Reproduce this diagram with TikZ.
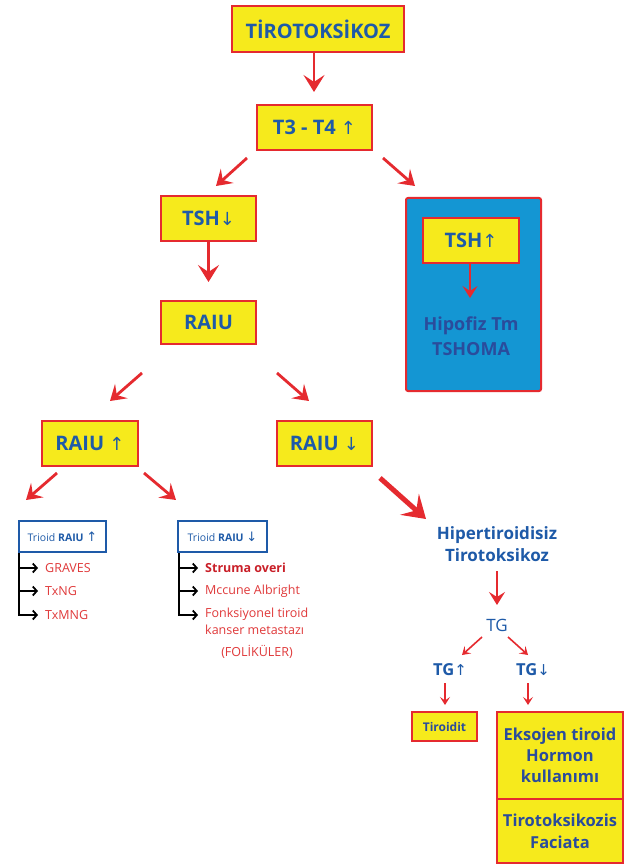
\documentclass[tikz,border=0pt]{standalone}
\usepackage{fontspec}
\setmainfont{Open Sans}
\newfontfamily\arrfont{DejaVu Sans}
\usetikzlibrary{arrows.meta}
\definecolor{boxyel}{HTML}{F6EA1C}
\definecolor{boxred}{HTML}{E52A2F}
\definecolor{txtblue}{HTML}{1E5AA8}
\definecolor{bigblue}{HTML}{1496D3}
\definecolor{darkblue}{HTML}{2A4C9C}
\definecolor{txtred}{HTML}{E0393A}
\definecolor{strred}{HTML}{C91F28}
\begin{document}
\begin{tikzpicture}[x=1pt,y=-1pt,
  ybox/.style={draw=boxred, line width=2.2pt, fill=boxyel, text=txtblue,
    font=\bfseries\fontsize{20}{22}\selectfont, inner sep=0pt},
  wbox/.style={draw=txtblue, line width=2pt, fill=white, text=txtblue,
    font=\fontsize{10.5}{12}\selectfont, inner sep=0pt, minimum height=31pt},
  redlab/.style={anchor=west, inner sep=0pt, text=txtred, font=\fontsize{12.5}{17}\selectfont},
  arr/.style={draw=boxred, line width=2.8pt, -{Stealth[length=17pt,width=21pt,inset=7pt]}},
  darr/.style={draw=boxred, line width=2.8pt, -{Stealth[length=15pt,width=19pt,inset=6pt]}},
  sarr/.style={draw=boxred, line width=1.6pt, -{Stealth[length=8pt,width=10pt,inset=3.5pt]}},
  brk/.style={draw=black, line width=1.8pt, -{Straight Barb[length=4pt,width=9pt]}},
]
\useasboundingbox (0,0) rectangle (627,866);
\fill[white] (0,0) rectangle (627,866);

% main boxes
\node[ybox, minimum width=172pt, minimum height=46pt] (top) at (318,29) {TİROTOKSİKOZ};
\node[ybox, minimum width=115pt, minimum height=45pt] (t34) at (314.5,127.5) {T3 - T4 {\arrfont\mdseries\fontsize{18}{20}\selectfont↑}};
\node[ybox, minimum width=95pt, minimum height=45pt] (tshd) at (208.5,218.5) {TSH{\arrfont\mdseries\fontsize{18}{20}\selectfont↓}};
\node[ybox, minimum width=95pt, minimum height=43pt] (raiu) at (208.5,322.5) {RAIU};

% blue box
\node[draw=boxred, line width=2pt, fill=bigblue, rounded corners=2pt,
  minimum width=135pt, minimum height=193pt, inner sep=0pt] (blue) at (473.5,294.5) {};
\node[ybox, minimum width=96pt, minimum height=45pt] (tshu) at (471,240.5) {TSH{\arrfont\mdseries\fontsize{18}{20}\selectfont↑}};
\node[text=darkblue, font=\bfseries\fontsize{18}{25}\selectfont, align=center, inner sep=0pt] (hipo) at (471,336) {Hipofiz Tm\\TSHOMA};
\coordinate (tshuE) at (470,298);
\draw[draw=boxred, line width=2pt, -{Stealth[length=12pt,width=15pt,inset=5pt]}] (tshu.south -| tshuE) -- (tshuE);

\node[ybox, minimum width=96pt, minimum height=45pt] (raiuu) at (90,443.5) {RAIU {\arrfont\mdseries\fontsize{18}{20}\selectfont↑}};
\node[ybox, minimum width=95pt, minimum height=45pt] (raiud) at (324.5,443.5) {RAIU {\arrfont\mdseries\fontsize{18}{20}\selectfont↓}};

% arrows top part
\coordinate (a0) at (314,92);
\draw[arr] (top.south -| a0) -- (a0);
\coordinate (a1s) at (247,158); \coordinate (a1e) at (216,186);
\coordinate (a2s) at (383,158); \coordinate (a2e) at (415,186);
\draw[darr] (a1s) -- (a1e);
\draw[darr] (a2s) -- (a2e);
\coordinate (a3) at (208.5,282);
\draw[arr] (tshd.south) -- (a3);
\coordinate (a4s) at (142,373); \coordinate (a4e) at (110,401);
\coordinate (a5s) at (277,373); \coordinate (a5e) at (309,401);
\draw[darr] (a4s) -- (a4e);
\draw[darr] (a5s) -- (a5e);
\coordinate (a6s) at (57,473); \coordinate (a6e) at (26,500);
\coordinate (a7s) at (144,473); \coordinate (a7e) at (176,500);
\draw[darr] (a6s) -- (a6e);
\draw[darr] (a7s) -- (a7e);
\coordinate (a8s) at (380,478); \coordinate (a8e) at (426,519);
\draw[draw=boxred, line width=5pt, -{Stealth[length=22pt,width=28pt,inset=9pt]}] (a8s) -- (a8e);

% Trioid boxes
\node[wbox, minimum width=87pt] (trU) at (62.5,536.5) {Trioid \textbf{RAIU} {\arrfont\fontsize{13}{13}\selectfont↑}};
\node[wbox, minimum width=89pt] (trD) at (222.5,536.5) {Trioid \textbf{RAIU} {\arrfont\fontsize{13}{13}\selectfont↓}};

\node[redlab] (gr) at (45,568) {GRAVES};
\node[redlab] (txng) at (45,591) {TxNG};
\node[redlab] (txmng) at (45,615) {TxMNG};
\draw[brk, shorten >=7pt] ([xshift=1pt]trU.south west) |- (txmng.west);
\draw[brk, shorten >=7pt] ([xshift=1pt]trU.south west |- gr.west) -- (gr.west);
\draw[brk, shorten >=7pt] ([xshift=1pt]trU.south west |- txng.west) -- (txng.west);

\node[redlab, text=strred, font=\bfseries\fontsize{12.5}{17}\selectfont] (str) at (205,568) {Struma overi};
\node[redlab] (mcc) at (205,591) {Mccune Albright};
\node[redlab, anchor=north west, align=left] (fonk) at (205,608) {Fonksiyonel tiroid\\kanser metastazı};
\node[redlab, anchor=center] (fol) at (257,652) {(FOLİKÜLER)};
\coordinate (fonkA) at (205,615);
\draw[brk, shorten >=7pt] ([xshift=2pt]trD.south west) |- (fonkA);
\draw[brk, shorten >=7pt] ([xshift=2pt]trD.south west |- str.west) -- (str.west);
\draw[brk, shorten >=7pt] ([xshift=2pt]trD.south west |- mcc.west) -- (mcc.west);

% right bottom part
\node[text=txtblue, font=\bfseries\fontsize{17}{22}\selectfont, align=center, inner sep=0pt] (hiper) at (497,544) {Hipertiroidisiz\\Tirotoksikoz};
\node[text=txtblue, font=\fontsize{17}{20}\selectfont, inner sep=1pt] (tg) at (497,625) {TG};
\coordinate (b0) at (497,605);
\draw[draw=boxred, line width=2pt, -{Stealth[length=13pt,width=16pt,inset=5pt]}] (497,571) -- (b0);
\node[text=txtblue, font=\bfseries\fontsize{16.5}{20}\selectfont, inner sep=1pt] (tgu) at (450,670) {TG{\arrfont\mdseries\fontsize{15}{15}\selectfont↑}};
\node[text=txtblue, font=\bfseries\fontsize{16.5}{20}\selectfont, inner sep=1pt] (tgd) at (533,670) {TG{\arrfont\mdseries\fontsize{15}{15}\selectfont↓}};
\coordinate (b1s) at (482,637); \coordinate (b1e) at (462,655);
\coordinate (b2s) at (508,637); \coordinate (b2e) at (528,655);
\draw[sarr] (b1s) -- (b1e);
\draw[sarr] (b2s) -- (b2e);

\node[ybox, line width=2pt, minimum width=65pt, minimum height=29pt, font=\bfseries\fontsize{12}{15}\selectfont, text=darkblue] (tir) at (444.5,726.5) {Tiroidit};
\node[ybox, line width=2pt, minimum width=126pt, minimum height=87pt, font=\bfseries\fontsize{16.5}{21}\selectfont, text=darkblue, align=center] (eks) at (560,755.5) {Eksojen tiroid\\Hormon\\kullanımı};
\node[ybox, line width=2pt, minimum width=126pt, minimum height=64pt, font=\bfseries\fontsize{16.5}{22}\selectfont, text=darkblue, align=center] (tf) at (560,831) {Tirotoksikozis\\Faciata};

\coordinate (c1) at (445,705);
\coordinate (c2) at (528,705);
\draw[sarr] (445,683) -- (c1);
\draw[sarr] (528,683) -- (c2);
\end{tikzpicture}
\end{document}
